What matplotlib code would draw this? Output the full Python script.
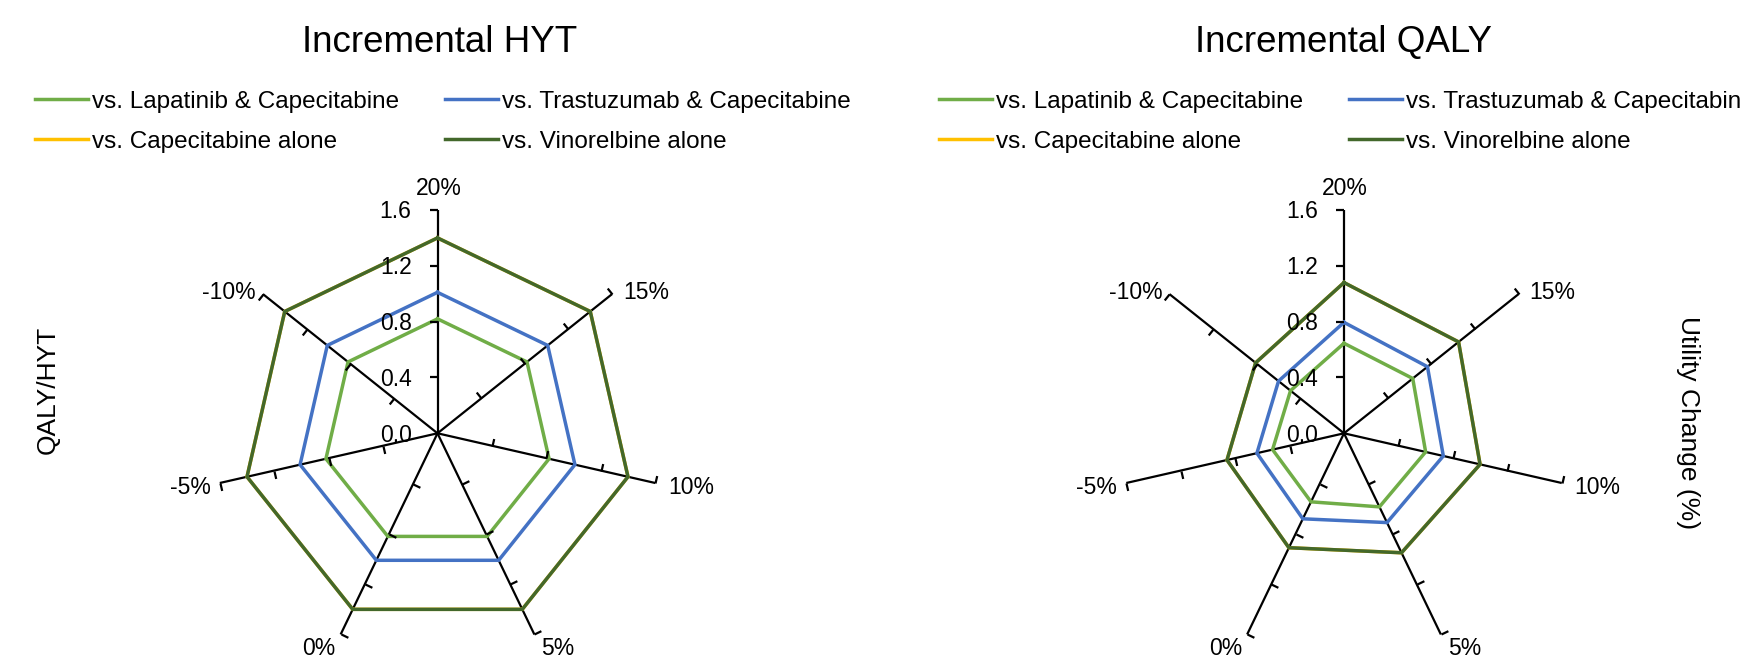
import numpy as np
import matplotlib
matplotlib.use('Agg')
import matplotlib.pyplot as plt
from matplotlib.markers import MarkerStyle
from matplotlib.transforms import Affine2D

plt.rcParams['font.family'] = ['Liberation Sans', 'DejaVu Sans']

# spokes of the radar, clockwise from the top
spokes = ['20%', '15%', '10%', '5%', '0%', '-5%', '-10%']
r_ticks = [0.0, 0.4, 0.8, 1.2, 1.6]
r_labels = ['0.0', '0.4', '0.8', '1.2', '1.6']

names = ['vs. Lapatinib & Capecitabine', 'vs. Trastuzumab & Capecitabine',
         'vs. Capecitabine alone', 'vs. Vinorelbine alone']
colors = ['#70AD47', '#4472C4', '#FFC000', '#43682B']

# Incremental HYT
hyt_lap = [0.82, 0.82, 0.82, 0.82, 0.82, 0.82, 0.82]
hyt_tra = [1.01, 1.01, 1.01, 1.01, 1.01, 1.01, 1.01]
hyt_cap = [1.40, 1.40, 1.40, 1.40, 1.40, 1.40, 1.40]
hyt_vin = [1.40, 1.40, 1.40, 1.40, 1.40, 1.40, 1.40]

# Incremental QALY
qaly_lap = [0.645, 0.63, 0.60, 0.585, 0.545, 0.525, 0.49]
qaly_tra = [0.795, 0.765, 0.73, 0.71, 0.68, 0.64, 0.60]
qaly_cap = [1.08, 1.05, 1.00, 0.95, 0.91, 0.86, 0.81]
qaly_vin = [1.08, 1.05, 1.00, 0.95, 0.91, 0.86, 0.81]

W, H = 1741, 657
fig = plt.figure(figsize=(W / 100, H / 100), dpi=100)

# label placement around the spokes: ha, va, dx, dy (pixels)
spoke_lab_pos = [('center', 'bottom', 1, 10), ('left', 'center', 11, 1.5),
                 ('left', 'center', 13, -4.5), ('left', 'top', 7, -2.5),
                 ('right', 'top', -5, -2.5), ('right', 'center', -9, -4.5),
                 ('right', 'center', -7, 1.5)]


def radar(cx, cy, rad, series):
    ax = fig.add_axes([cx / W - rad / W, 1 - cy / H - rad / H, 2 * rad / W, 2 * rad / H],
                      projection='polar')
    theta = np.arange(len(spokes)) * 2 * np.pi / len(spokes)
    ax.set_theta_zero_location('N')
    ax.set_theta_direction(-1)
    ax.set_ylim(0, 1.6)
    ax.set_xticks(theta)
    ax.set_xticklabels([])
    ax.set_yticks([])
    ax.xaxis.grid(True, color='black', lw=1.6)
    ax.yaxis.grid(False)
    ax.spines['polar'].set_visible(False)
    ax.set_facecolor('none')

    lines = []
    for vals, c, n in zip(series, colors, names):
        v = np.array(vals)
        ln, = ax.plot(np.append(theta, theta[0]), np.append(v, v[0]), color=c, lw=2.5,
                      label=n, solid_joinstyle='miter', clip_on=False)
        lines.append(ln)

    # small tick marks on each spoke
    for t in theta:
        ms = MarkerStyle([(0, 0), (-1, 0)], transform=Affine2D().rotate_deg(-np.degrees(t)))
        ax.plot([t] * 4, r_ticks[1:], ls='none', marker=ms, ms=11, mec='black', mew=1.6,
                clip_on=False)

    for t, lab, (ha, va, dx, dy) in zip(theta, spokes, spoke_lab_pos):
        ax.annotate(lab, xy=(t, 1.6), xytext=(dx, dy), textcoords='offset pixels',
                    ha=ha, va=va, fontsize=16.5, annotation_clip=False)
    for r, lab in zip(r_ticks, r_labels):
        ax.annotate(lab, xy=(0, r), xytext=(-26, -2), textcoords='offset pixels',
                    ha='right', va='center', fontsize=16.5, annotation_clip=False)
    return lines


lines = radar(437.5, 433.3, 223.3, [hyt_lap, hyt_tra, hyt_cap, hyt_vin])
radar(1344, 433.3, 223.3, [qaly_lap, qaly_tra, qaly_cap, qaly_vin])

fig.text(440 / W, 1 - 51.7 / H, 'Incremental HYT', ha='center', va='baseline', fontsize=26.5)
fig.text(1343.6 / W, 1 - 51.7 / H, 'Incremental QALY', ha='center', va='baseline', fontsize=26.5)

fig.text(48 / W, 1 - 390 / H, 'QALY/HYT', rotation=90, ha='center', va='center', fontsize=19)
fig.text(1687.5 / W, 1 - 423 / H, 'Utility Change (%)', rotation=-90, ha='center', va='center',
         fontsize=19)

order = [0, 2, 1, 3]
for x0 in (35, 939.4):
    fig.legend([lines[i] for i in order], [names[i] for i in order], loc='center left',
               bbox_to_anchor=(x0 / W, 1 - 121.7 / H), ncol=2, frameon=False, fontsize=17.5,
               handlelength=2.18, handletextpad=0.15, columnspacing=1.9, labelspacing=0.75,
               borderpad=0, borderaxespad=0)

fig.savefig('out.png', dpi=100, facecolor='white')
